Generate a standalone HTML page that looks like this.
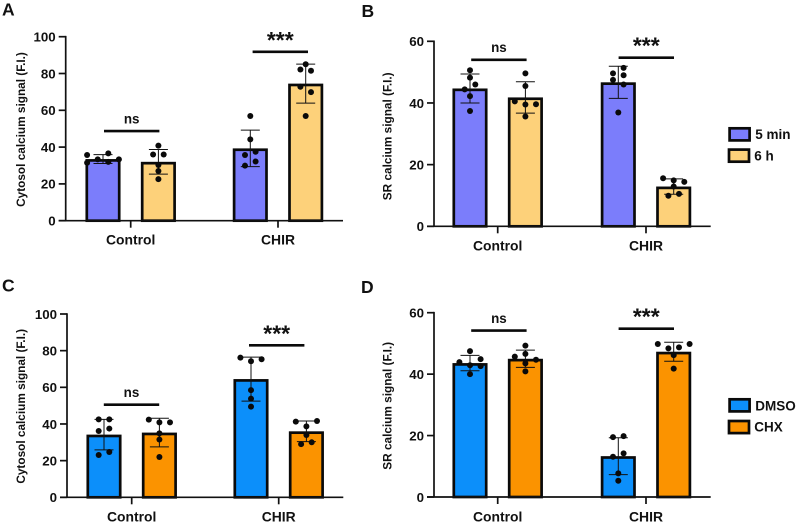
<!DOCTYPE html>
<html lang="en">
<head>
<meta charset="utf-8">
<title>Calcium signal bar charts</title>
<style>
html,body{margin:0;padding:0;background:#fff;}
svg{display:block;}
text{font-family:"Liberation Sans",Arial,sans-serif;font-weight:700;fill:#111;}
</style>
</head>
<body>
<svg id="figure" width="798" height="523" viewBox="0 0 798 523" xmlns="http://www.w3.org/2000/svg"></svg>
<script>
const categories = ["Control", "CHIR"];
const seriesTop = ["5 min", "6 h"];
const seriesBottom = ["DMSO", "CHX"];
const significance = ["ns", "***"];
const ticksCytosol = [0, 20, 40, 60, 80, 100];
const ticksSR = [0, 20, 40, 60];

const meansA = [33.5, 32, 39.3, 74.5];
const sdsA = [2.4, 6.7, 9.9, 10.6];
const pointsA = [
  [35.7, 31.5, 33.3, 36.6, 32, 33.3],
  [40.8, 36, 36, 30.3, 27, 22.6],
  [56.9, 44.2, 35.7, 37.5, 29.9, 32.2],
  [85, 82.2, 81.5, 72.8, 69.9, 56.9]
];
const swarmA = [
  [-3, -3, -1, 1, 1, 3],
  [0, -1, 1, 0, 0, 0],
  [0, 0, -1, 1, -1, 1],
  [0, -1, 1, -1, 1, 0]
];
const sigLevelsA = [48.7, 91.8];

const meansB = [44.7, 41.8, 46.7, 12.9];
const sdsB = [4.7, 5.1, 5.2, 2.5];
const pointsB = [
  [50.6, 48.2, 46, 44.4, 42.2, 37.4],
  [49.6, 45.5, 40.5, 39.5, 39.6, 35.6],
  [49.6, 51.4, 49, 47.5, 46, 36.9],
  [15.6, 14.9, 14.4, 12.9, 9.9, 10.5]
];
const swarmB = [
  [0, 0, 1, -1, 0, 0],
  [0, 0, -2, 0, 2, 0],
  [-1, 1, 1, -1, 1, 0],
  [-2, 0, 2, 0, -1, 1]
];
const sigLevelsB = [54, 54.7];

const meansC = [34.2, 35.3, 64.5, 36];
const sdsC = [8.3, 7.8, 12, 5.6];
const pointsC = [
  [42.5, 42.5, 36.2, 37.5, 23.1, 24.7],
  [42.4, 40.9, 40.9, 34.9, 31.5, 22],
  [76.2, 74.2, 75.3, 58.5, 53.8, 49.5],
  [41.3, 41.6, 38.7, 34, 29, 30]
];
const swarmC = [
  [-1, 1, -1, 1, -1, 1],
  [-2, 0, 2, 0, 0, 0],
  [-2, 0, 2, 0, 0, 0],
  [-2, 2, 0, 0, -1, 1]
];
const sigLevelsC = [50.5, 82.9];

const meansD = [43.6, 45, 13.3, 47.3];
const sdsD = [2.5, 2.8, 6, 3.1];
const pointsD = [
  [47.5, 44.9, 43.9, 42.9, 42.6, 40],
  [49.3, 45.7, 46.6, 44.7, 43.5, 40.9],
  [19.5, 19.8, 13.1, 14.2, 7.7, 5.3],
  [49.8, 49.8, 48.4, 48.7, 46.2, 41.8]
];
const swarmD = [
  [0, 2, -2, 0, 2, 0],
  [0, -2, 0, 2, 0, 0],
  [-1, 1, -1, 1, 0, 0],
  [-3, 3, -1, 1, 0, 0]
];
const sigLevelsD = [54.2, 54.8];

const colorsTop = ["#7b7dfb", "#fdd17a"];
const colorsBottom = ["#0c8ffa", "#fb9300"];

const panels = [
  {id:"a", letter:"A", lx:2, ly:15.7, title:"Cytosol calcium signal (F.I.)", ticks:ticksCytosol, max:100,
   left:65.7, right:343, y0:220.7, yTop:36.7, groups:[130.7,278], labelY:244.5, titleX:21, titleY:129.5,
   means:meansA, sds:sdsA, points:pointsA, swarm:swarmA, sig:sigLevelsA, sigShift:[1,2.3], colors:colorsTop},
  {id:"b", letter:"B", lx:361.5, ly:17, title:"SR calcium signal (F.I.)", ticks:ticksSR, max:60,
   left:434, right:710.7, y0:226.3, yTop:41.3, groups:[497.7,646], labelY:250.5, titleX:387.3, titleY:136.3,
   means:meansB, sds:sdsB, points:pointsB, swarm:swarmB, sig:sigLevelsB, sigShift:[1.2,0.3], colors:colorsTop},
  {id:"c", letter:"C", lx:2, ly:291.7, title:"Cytosol calcium signal (F.I.)", ticks:ticksCytosol, max:100,
   left:67, right:343.3, y0:497.3, yTop:314, groups:[131.7,278.7], labelY:521.5, titleX:21, titleY:406.3,
   means:meansC, sds:sdsC, points:pointsC, swarm:swarmC, sig:sigLevelsC, sigShift:[-0.2,-2], colors:colorsBottom},
  {id:"d", letter:"D", lx:361, ly:293, title:"SR calcium signal (F.I.)", ticks:ticksSR, max:60,
   left:434, right:710.7, y0:497, yTop:312.7, groups:[497.7,646], labelY:521.5, titleX:387.3, titleY:405.8,
   means:meansD, sds:sdsD, points:pointsD, swarm:swarmD, sig:sigLevelsD, sigShift:[1.2,0.3], colors:colorsBottom}
];

const legends = [
  {id:"top", names:seriesTop, colors:colorsTop, boxes:[[728.3,127],[727.7,148.3]], textX:[755.3,754.3], textY:[139,160.5]},
  {id:"bottom", names:seriesBottom, colors:colorsBottom, boxes:[[728.3,398],[727.7,419.7]], textX:[755.3,754.3], textY:[410.3,431.5]}
];

const SVGNS = "http://www.w3.org/2000/svg";
const root = document.getElementById("figure");
const BAR_DODGE = 27.7, BAR_W = 32.4, BAR_STROKE = 2.7, CAP = 9.5, SLOT = 5.3;

function make(parent, tag, attrs, text) {
  const el = document.createElementNS(SVGNS, tag);
  for (const k in attrs) el.setAttribute(k, attrs[k]);
  if (text !== undefined) el.textContent = text;
  parent.appendChild(el);
  return el;
}

function drawPanel(p) {
  const yScale = v => p.y0 - (v / p.max) * (p.y0 - p.yTop);
  const barX = i => p.groups[Math.floor(i / 2)] + (i % 2 === 0 ? -BAR_DODGE : BAR_DODGE);

  const g = make(root, "g", {});
  
  

  const letter = make(g, "text", {x:p.lx, y:p.ly, "font-size":17.5}, p.letter);
  
  

  const title = make(g, "text", {x:0, y:0, "font-size":11.8, "text-anchor":"middle", "dominant-baseline":"central",
    transform:"translate(" + p.titleX + " " + p.titleY + ") rotate(-90)"}, p.title);
  
  

  p.means.forEach((m, i) => {
    const x = barX(i), color = p.colors[i % 2];
    const barTop = yScale(m) + BAR_STROKE / 2;
    const bar = make(g, "rect", {x:x - BAR_W / 2, y:barTop, width:BAR_W, height:Math.max(0, p.y0 - barTop),
      fill:color, stroke:"#0a0a0a", "stroke-width":BAR_STROKE});
    
    

    const hi = yScale(m + p.sds[i]), lo = yScale(m - p.sds[i]);
    const err = make(g, "path", {d:"M" + x + " " + hi + "V" + lo + "M" + (x - CAP) + " " + hi + "H" + (x + CAP) + "M" + (x - CAP) + " " + lo + "H" + (x + CAP),
      fill:"none", stroke:"#111", "stroke-width":1});
    
    

    p.points[i].forEach((v, j) => {
      const dot = make(g, "circle", {cx:x + p.swarm[i][j] * SLOT, cy:yScale(v), r:3, fill:"#0a0a0a"});
      
      
    });
  });

  const axisY = make(g, "line", {x1:p.left, x2:p.left, y1:p.yTop - 0.8, y2:p.y0, stroke:"#111", "stroke-width":1.7});
  
  
  const axisX = make(g, "line", {x1:p.left - 7, x2:p.right, y1:p.y0, y2:p.y0, stroke:"#111", "stroke-width":1.7});
  
  

  p.ticks.forEach(t => {
    const y = yScale(t);
    const tick = make(g, "line", {x1:p.left - 7, x2:p.left, y1:y, y2:y, stroke:"#111", "stroke-width":1.7});
    
    
    const label = make(g, "text", {x:p.left - 10, y:y + 4.8, "font-size":13.3, "text-anchor":"end"}, String(t));
    
    
  });

  categories.forEach((c, i) => {
    const x = p.groups[i];
    const tick = make(g, "line", {x1:x, x2:x, y1:p.y0, y2:p.y0 + 7, stroke:"#111", "stroke-width":1.7});
    
    
    const label = make(g, "text", {x:x, y:p.labelY, "font-size":13.9, "text-anchor":"middle"}, c);
    
    

    const y = yScale(p.sig[i]);
    const x1 = barX(i * 2) + p.sigShift[i], x2 = barX(i * 2 + 1) + p.sigShift[i];
    const line = make(g, "line", {x1:x1, x2:x2, y1:y, y2:y, stroke:"#0a0a0a", "stroke-width":2.6});
    
    
    const isStars = significance[i] === "***";
    const sig = make(g, "text", {x:(x1 + x2) / 2, y:isStars ? y - 4 : y - 7.7, "font-size":isStars ? 23 : 13.4, "text-anchor":"middle"}, significance[i]);
    
    
  });
}

function drawLegend(l) {
  const g = make(root, "g", {});
  
  
  l.names.forEach((name, i) => {
    const swatch = make(g, "rect", {x:l.boxes[i][0] + 1.3, y:l.boxes[i][1] + 1.3, width:20, height:12.1,
      fill:l.colors[i], stroke:"#0a0a0a", "stroke-width":2.7});
    
    
    const label = make(g, "text", {x:l.textX[i], y:l.textY[i], "font-size":13.5}, name);
    
    
  });
}

panels.forEach(drawPanel);
legends.forEach(drawLegend);
</script>
</body>
</html>
